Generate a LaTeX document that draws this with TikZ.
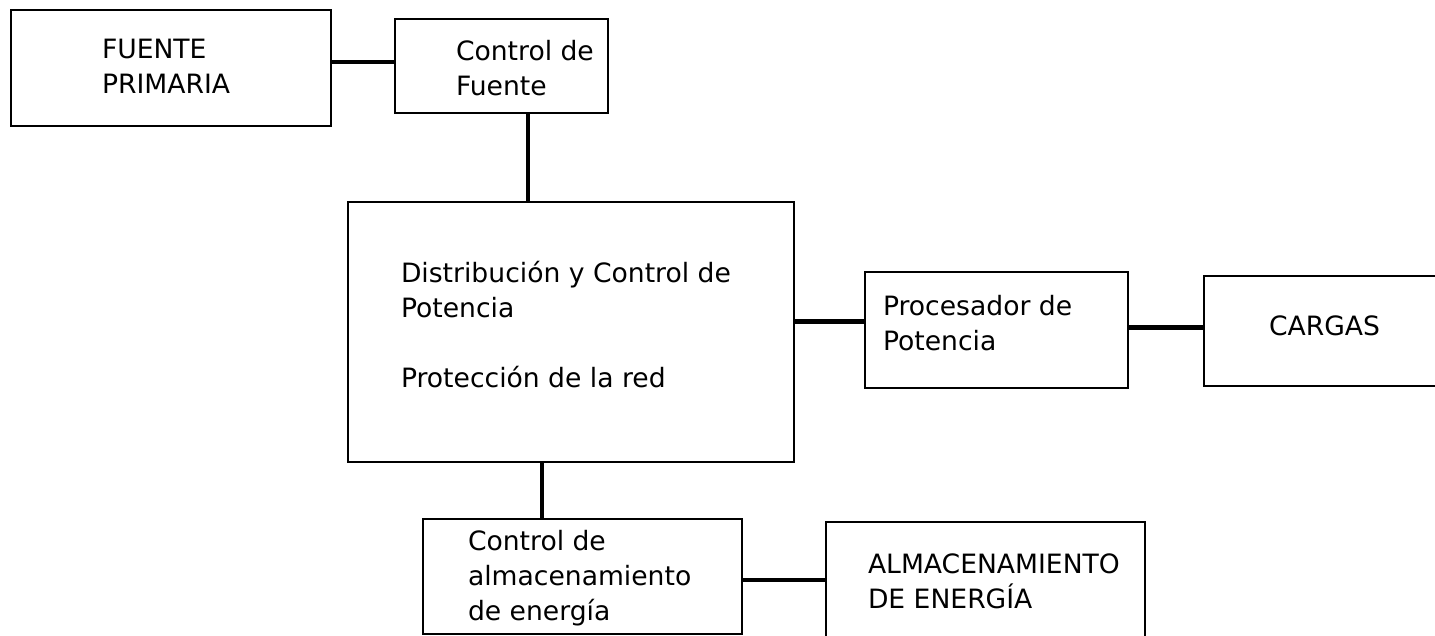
\documentclass[tikz,border=0pt]{standalone}
\usepackage{fontspec}
\setmainfont{DejaVu Sans}
\begin{document}
\begin{tikzpicture}[x=1pt,y=-1pt,
  box/.style={draw=black, line width=2pt, inner sep=0pt, outer sep=0pt, rectangle},
  conn/.style={draw=black, line width=4.5pt},
  txt/.style={anchor=base west, inner sep=0pt, outer sep=0pt,
    font=\fontsize{26.6}{35}\selectfont}]
\useasboundingbox (0,0) rectangle (1435,635);
\clip (0,0) rectangle (1435,635);
% boxes
\node[box, minimum width=320pt, minimum height=115.5pt] (A) at (171,67.75) {};
\node[box, minimum width=213pt, minimum height=94pt] (B) at (501.5,66) {};
\node[box, minimum width=446.5pt, minimum height=260pt] (C) at (570.75,332) {};
\node[box, minimum width=263pt, minimum height=116pt] (D) at (996.5,329.7) {};
\node[box, minimum width=256pt, minimum height=109.7pt] (E) at (1332,330.85) {};
\node[box, minimum width=319.5pt, minimum height=114.7pt] (F) at (582.25,576.65) {};
\node[box, minimum width=319pt, minimum height=138pt] (G) at (985.5,591) {};
% texts
\node[txt] (tA) at (102,58) {\vtop{\hbox{FUENTE}\hbox{PRIMARIA}}};
\node[txt] (tB) at (456,60) {\vtop{\hbox{Control de}\hbox{Fuente}}};
\node[txt] (tC) at (401,282) {\vtop{\hbox{Distribución y Control de}\hbox{Potencia}\hbox{}\hbox{Protección de la red}}};
\node[txt] (tD) at (883,315) {\vtop{\hbox{Procesador de}\hbox{Potencia}}};
\node[txt] (tE) at (1269,335) {CARGAS};
\node[txt] (tF) at (468,550) {\vtop{\hbox{Control de}\hbox{almacenamiento}\hbox{de energía}}};
\node[txt] (tG) at (868,573) {\vtop{\hbox{ALMACENAMIENTO}\hbox{DE ENERGÍA}}};
% connectors
\draw[conn] ([yshift=5.75pt]A.east) -- ([yshift=5.75pt]A.east -| B.west);
\draw[conn] ([xshift=26.5pt]B.south) -- ([xshift=26.5pt]B.south |- C.north);
\draw[conn] ([yshift=10.3pt]C.east) -- ([yshift=10.3pt]C.east -| D.west);
\draw[conn] ([yshift=2pt]D.east) -- ([yshift=2pt]D.east -| E.west);
\draw[conn] ([xshift=-28.75pt]C.south) -- ([xshift=-28.75pt]C.south |- F.north);
\draw[conn] ([yshift=-3.35pt]F.east) -- ([yshift=-3.35pt]F.east -| G.west);
\end{tikzpicture}
\end{document}
